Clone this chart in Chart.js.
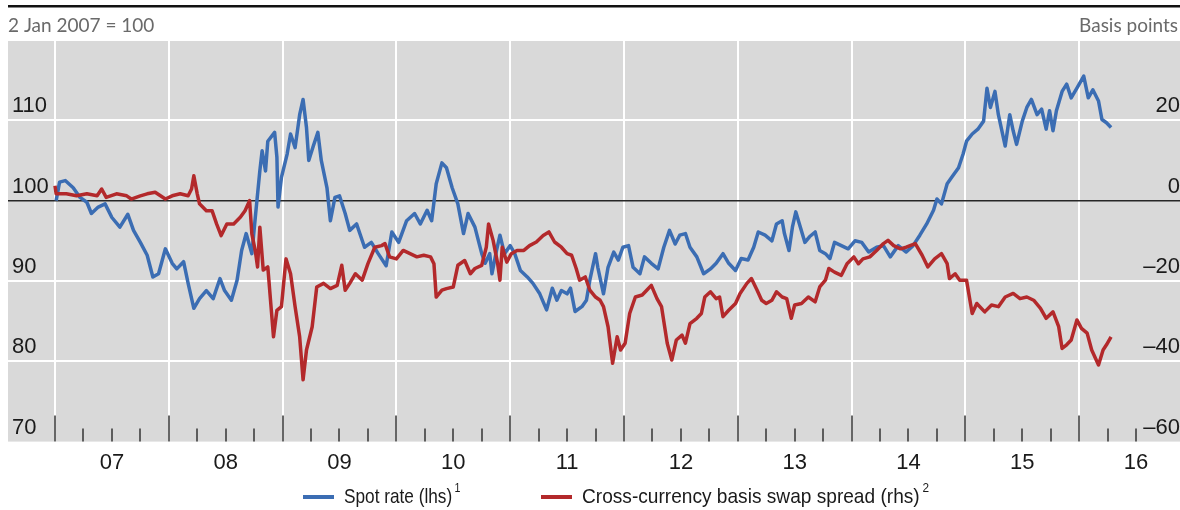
<!DOCTYPE html>
<html>
<head>
<meta charset="utf-8">
<script src="https://cdn.jsdelivr.net/npm/chart.js@4.4.1/dist/chart.umd.min.js"></script>
<style>
  body { margin: 0; background: #fff; }
</style>
</head>
<body>
<canvas id="fxChart" width="1180" height="510"></canvas>
<script>
// Spot rate, 2 Jan 2007 = 100 (lhs)
const spotDates = [
  2007.01, 2007.04, 2007.09, 2007.16, 2007.22, 2007.28, 2007.32, 2007.38, 2007.44, 2007.50, 2007.57, 2007.64, 2007.69, 2007.75, 2007.81, 2007.86, 2007.91, 2007.97,
  2008.03, 2008.07, 2008.13, 2008.17, 2008.22, 2008.27, 2008.33, 2008.39, 2008.45, 2008.49, 2008.55, 2008.60, 2008.64, 2008.68, 2008.73, 2008.76, 2008.80, 2008.82, 2008.85, 2008.87, 2008.93, 2008.95, 2008.96, 2008.99,
  2009.04, 2009.07, 2009.11, 2009.15, 2009.18, 2009.21, 2009.23, 2009.27, 2009.31, 2009.34, 2009.39, 2009.42, 2009.46, 2009.50, 2009.55, 2009.59, 2009.65, 2009.72, 2009.78, 2009.84, 2009.91, 2009.96,
  2010.02, 2010.09, 2010.16, 2010.21, 2010.27, 2010.31, 2010.35, 2010.40, 2010.44, 2010.49, 2010.54, 2010.59, 2010.63, 2010.69, 2010.75, 2010.78, 2010.82, 2010.84, 2010.88, 2010.91, 2010.95,
  2011.00, 2011.04, 2011.09, 2011.15, 2011.20, 2011.26, 2011.32, 2011.37, 2011.41, 2011.45, 2011.50, 2011.53, 2011.57, 2011.63, 2011.67, 2011.70, 2011.75, 2011.77, 2011.82, 2011.86, 2011.91, 2011.95, 2011.99,
  2012.04, 2012.08, 2012.14, 2012.18, 2012.24, 2012.30, 2012.35, 2012.40, 2012.45, 2012.49, 2012.54, 2012.58, 2012.64, 2012.70, 2012.76, 2012.81, 2012.87, 2012.92, 2012.98,
  2013.03, 2013.09, 2013.14, 2013.18, 2013.24, 2013.30, 2013.34, 2013.39, 2013.41, 2013.45, 2013.48, 2013.51, 2013.55, 2013.59, 2013.63, 2013.68, 2013.72, 2013.77, 2013.81, 2013.85, 2013.91, 2013.97,
  2014.03, 2014.09, 2014.15, 2014.22, 2014.28, 2014.34, 2014.41, 2014.48, 2014.54, 2014.60, 2014.66, 2014.72, 2014.75, 2014.79, 2014.84, 2014.88, 2014.94, 2014.98,
  2015.01, 2015.06, 2015.11, 2015.16, 2015.19, 2015.22, 2015.26, 2015.29, 2015.35, 2015.39, 2015.42, 2015.45, 2015.50, 2015.54, 2015.58, 2015.63, 2015.67, 2015.71, 2015.74, 2015.77, 2015.80, 2015.85, 2015.89, 2015.93, 2015.98,
  2016.04, 2016.08, 2016.12, 2016.17, 2016.20, 2016.24, 2016.28
];
const spotValues = [
  100.0, 102.3, 102.5, 101.6, 100.4, 99.8, 98.4, 99.2, 99.6, 97.9, 96.7, 98.3, 96.3, 94.8, 93.2, 90.5, 90.9, 94.0,
  92.2, 91.5, 92.4, 89.7, 86.6, 87.8, 88.8, 87.8, 90.3, 88.8, 87.6, 90.1, 93.8, 95.9, 93.4, 97.9, 103.7, 106.2, 103.7, 107.4, 108.5, 105.4, 99.2, 102.9,
  105.8, 108.3, 106.6, 110.7, 112.6, 109.1, 105.0, 106.8, 108.5, 105.0, 101.6, 97.5, 100.4, 100.6, 98.4, 96.3, 97.1, 94.2, 94.8, 93.4, 91.9, 96.1,
  94.8, 97.5, 98.4, 97.1, 98.8, 97.5, 102.1, 104.7, 104.1, 101.6, 99.6, 95.9, 98.4, 96.7, 93.4, 92.2, 93.4, 90.9, 93.8, 95.7, 93.4,
  94.4, 93.4, 91.3, 90.5, 89.7, 88.4, 86.4, 89.1, 87.6, 88.8, 88.4, 89.1, 86.2, 86.8, 87.6, 90.1, 93.4, 91.7, 88.4, 91.7, 93.6, 92.6, 94.2,
  94.4, 91.7, 90.9, 93.0, 92.2, 91.5, 94.2, 96.3, 94.6, 95.7, 95.9, 94.2, 93.0, 90.9, 91.5, 92.2, 93.4, 92.2, 91.3,
  92.8, 92.6, 94.2, 96.1, 95.7, 95.0, 97.1, 97.5, 95.9, 93.8, 96.7, 98.6, 96.7, 94.8, 95.5, 96.1, 93.8, 93.4, 92.8, 94.8, 94.4, 94.0,
  95.0, 94.8, 93.6, 94.2, 94.4, 93.0, 94.4, 93.6, 94.4, 95.7, 97.1, 98.8, 100.2, 99.6, 102.1, 102.9, 104.1, 105.8,
  107.4, 108.3, 108.9, 109.9, 114.0, 111.6, 113.6, 110.7, 106.8, 110.7, 108.7, 107.0, 109.9, 111.6, 112.6, 110.7, 111.4, 108.9, 111.2, 108.7, 111.2, 113.6, 114.5, 112.8, 114.0,
  115.5, 112.8, 113.8, 112.4, 110.1, 109.7, 109.1
];

// Cross-currency basis swap spread, basis points (rhs)
const basisDates = [
  2007.00, 2007.01, 2007.10, 2007.19, 2007.28, 2007.37, 2007.41, 2007.45, 2007.54, 2007.63, 2007.67, 2007.75, 2007.81, 2007.88, 2007.97,
  2008.03, 2008.10, 2008.17, 2008.20, 2008.22, 2008.25, 2008.27, 2008.33, 2008.38, 2008.42, 2008.46, 2008.51, 2008.57, 2008.63, 2008.67, 2008.71, 2008.73, 2008.76, 2008.78, 2008.80, 2008.83, 2008.87, 2008.92, 2008.95, 2008.99,
  2009.03, 2009.07, 2009.11, 2009.15, 2009.18, 2009.21, 2009.26, 2009.30, 2009.36, 2009.42, 2009.48, 2009.52, 2009.55, 2009.59, 2009.64, 2009.70, 2009.75, 2009.81, 2009.87, 2009.90, 2009.94,
  2010.00, 2010.06, 2010.12, 2010.18, 2010.24, 2010.30, 2010.33, 2010.35, 2010.40, 2010.44, 2010.50, 2010.54, 2010.60, 2010.65, 2010.69, 2010.75, 2010.79, 2010.81, 2010.85, 2010.89, 2010.91, 2010.93, 2010.97,
  2011.01, 2011.06, 2011.12, 2011.17, 2011.23, 2011.29, 2011.34, 2011.39, 2011.45, 2011.50, 2011.54, 2011.58, 2011.61, 2011.66, 2011.70, 2011.75, 2011.79, 2011.82, 2011.86, 2011.90, 2011.94, 2011.97,
  2012.01, 2012.05, 2012.10, 2012.16, 2012.20, 2012.24, 2012.29, 2012.33, 2012.38, 2012.42, 2012.46, 2012.51, 2012.54, 2012.58, 2012.64, 2012.68, 2012.71, 2012.76, 2012.81, 2012.84, 2012.87, 2012.92, 2012.98,
  2013.02, 2013.08, 2013.12, 2013.17, 2013.21, 2013.25, 2013.30, 2013.34, 2013.39, 2013.43, 2013.47, 2013.50, 2013.56, 2013.62, 2013.68, 2013.72, 2013.77, 2013.80, 2013.85, 2013.91, 2013.96,
  2014.02, 2014.06, 2014.10, 2014.16, 2014.22, 2014.28, 2014.32, 2014.37, 2014.43, 2014.48, 2014.56, 2014.62, 2014.67, 2014.73, 2014.79, 2014.84, 2014.86, 2014.91, 2014.95,
  2015.01, 2015.04, 2015.06, 2015.10, 2015.17, 2015.23, 2015.29, 2015.35, 2015.42, 2015.48, 2015.54, 2015.60, 2015.66, 2015.71, 2015.77, 2015.82, 2015.85, 2015.89, 2015.93, 2015.98,
  2016.02, 2016.07, 2016.11, 2016.17, 2016.21, 2016.24, 2016.28
];
const basisValues = [
  3.7, 1.7, 1.7, 1.2, 1.7, 1.2, 2.9, 0.8, 1.7, 1.2, 0.4, 1.2, 1.7, 2.1, 0.4,
  1.2, 1.7, 1.2, 2.9, 6.2, 1.7, -0.8, -2.5, -2.5, -5.8, -8.7, -5.8, -5.8, -4.1, -2.5, 0.0, -8.3, -12.5, -16.5, -6.6, -17.3, -16.5, -33.9, -27.3, -26.4,
  -14.5, -18.2, -26.4, -33.9, -44.6, -37.2, -31.4, -21.5, -20.6, -21.9, -21.1, -16.1, -22.3, -20.6, -18.2, -19.8, -15.7, -11.6, -11.2, -10.7, -14.0,
  -14.5, -12.4, -13.2, -14.0, -13.6, -14.0, -15.7, -24.0, -22.3, -21.9, -21.5, -16.1, -14.9, -18.2, -16.9, -16.1, -11.6, -5.8, -9.9, -15.7, -19.8, -11.6, -15.3,
  -13.2, -12.4, -12.4, -11.2, -10.3, -8.7, -7.8, -10.3, -11.6, -13.2, -13.6, -16.9, -19.8, -19.0, -22.3, -24.0, -24.8, -26.4, -31.4, -40.5, -33.9, -37.2,
  -35.5, -28.1, -24.0, -23.5, -22.3, -21.1, -24.4, -26.4, -35.5, -39.7, -34.7, -33.5, -35.5, -30.6, -29.3, -28.1, -24.0, -22.7, -24.4, -24.0, -28.9, -27.3, -25.6,
  -23.1, -20.6, -19.4, -22.3, -24.8, -25.6, -24.8, -22.7, -24.0, -24.4, -29.3, -26.0, -25.6, -24.0, -25.2, -21.5, -19.8, -16.9, -17.8, -18.6, -15.7,
  -14.0, -15.7, -14.5, -14.0, -12.4, -10.7, -9.9, -11.2, -12.0, -11.6, -10.7, -13.6, -16.5, -14.5, -13.2, -15.7, -19.4, -18.2, -19.8,
  -19.8, -24.8, -28.1, -25.6, -27.7, -26.0, -26.4, -24.0, -23.1, -24.4, -24.0, -24.8, -26.8, -29.3, -27.7, -31.4, -36.8, -35.9, -34.7, -29.7,
  -31.8, -33.0, -37.2, -40.9, -37.2, -35.9, -33.9
];

// axis categories and tick labels
const yearLabels = ['07', '08', '09', '10', '11', '12', '13', '14', '15', '16'];
const lhsTicks = [70, 80, 90, 100, 110];
const rhsTicks = [-60, -40, -20, 0, 20];

const blue = '#3b6db3';
const red = '#b3292b';
const sans = "'Liberation Sans', Arial, sans-serif";
const years = yearLabels.map((l, i) => 2007 + i);

const toPoints = (xs, ys) => xs.map((x, i) => ({ x: x, y: ys[i] }));
const dashNum = v => (v < 0 ? '\u2013' + Math.abs(v) : String(v));

// grey plot panel
const plotBackground = {
  id: 'plotBackground',
  beforeDraw(chart) {
    const { ctx, chartArea: a } = chart;
    ctx.save();
    ctx.fillStyle = '#d9d9d9';
    ctx.fillRect(a.left, a.top, a.right - a.left, a.bottom - a.top);
    ctx.restore();
  }
};

// year / quarter tick marks standing up from the bottom of the panel
const quarterTicks = {
  id: 'quarterTicks',
  afterDraw(chart) {
    const { ctx, chartArea: a } = chart;
    const xs = chart.scales.x;
    const last = years[years.length - 1] + 0.5;
    ctx.save();
    ctx.strokeStyle = '#333';
    ctx.lineWidth = 1.5;
    years.forEach(yr => {
      [0, 0.25, 0.5, 0.75].forEach(q => {
        if (yr + q > last) return;
        const px = Math.round(xs.getPixelForValue(yr + q));
        const len = q === 0 ? 26 : 13;
        ctx.beginPath();
        ctx.moveTo(px, a.bottom);
        ctx.lineTo(px, a.bottom - len);
        ctx.stroke();
      });
    });
    ctx.restore();
  }
};

// top rule, unit captions and legend
const frame = {
  id: 'frame',
  afterDraw(chart) {
    const ctx = chart.ctx;
    ctx.save();
    ctx.fillStyle = '#111';
    ctx.fillRect(8, 5, 1172, 2.5);

    ctx.font = "19px Lato, 'Open Sans', sans-serif";
    ctx.fillStyle = '#6a6a6a';
    ctx.textBaseline = 'middle';
    ctx.textAlign = 'left';
    ctx.fillText('2 Jan 2007 = 100', 8, 26);
    ctx.textAlign = 'right';
    ctx.fillText('Basis points', 1178, 26);

    // legend, text squeezed to a narrow face
    const items = [
      { ds: chart.data.datasets[0], sup: '1', x: 303, squeeze: 0.82 },
      { ds: chart.data.datasets[1], sup: '2', x: 541, squeeze: 0.91 }
    ];
    const ly = 497;
    ctx.textAlign = 'left';
    ctx.textBaseline = 'middle';
    items.forEach(it => {
      ctx.strokeStyle = it.ds.borderColor;
      ctx.lineWidth = 4;
      ctx.beginPath();
      ctx.moveTo(it.x, ly);
      ctx.lineTo(it.x + 31, ly);
      ctx.stroke();
      ctx.fillStyle = '#1a1a1a';
      ctx.save();
      ctx.translate(it.x + 41, ly);
      ctx.scale(it.squeeze, 1);
      ctx.font = '21px ' + sans;
      ctx.fillText(it.ds.label, 0, 0);
      const w = ctx.measureText(it.ds.label).width;
      ctx.font = '13px ' + sans;
      ctx.fillText(it.sup, w + 3, -9);
      ctx.restore();
    });
    ctx.restore();
  }
};

const tickFont = { family: sans, size: 22 };

new Chart(document.getElementById('fxChart'), {
  type: 'line',
  data: {
    datasets: [
      {
        label: 'Spot rate (lhs)',
        data: toPoints(spotDates, spotValues),
        borderColor: blue,
        backgroundColor: blue,
        yAxisID: 'y',
        order: 1
      },
      {
        label: 'Cross-currency basis swap spread (rhs)',
        data: toPoints(basisDates, basisValues),
        borderColor: red,
        backgroundColor: red,
        yAxisID: 'y2',
        order: 0
      }
    ]
  },
  options: {
    responsive: false,
    animation: false,
    layout: { padding: { top: 40, left: 0, right: 0, bottom: 26 } },
    elements: {
      point: { radius: 0 },
      line: { borderWidth: 3.5, tension: 0, borderJoinStyle: 'round' }
    },
    plugins: {
      legend: { display: false },
      tooltip: { enabled: false }
    },
    scales: {
      x: {
        type: 'linear',
        bounds: 'data',
        min: 2006.587,
        max: 2016.886,
        afterBuildTicks: scale => {
          const t = [];
          years.forEach(yr => { t.push({ value: yr }); t.push({ value: yr + 0.5 }); });
          scale.ticks = t;
        },
        border: { display: false },
        grid: {
          drawTicks: false,
          lineWidth: 2,
          color: c => (Number.isInteger(c.tick.value) ? '#ffffff' : 'rgba(0,0,0,0)')
        },
        ticks: {
          autoSkip: false,
          maxRotation: 0,
          padding: 8,
          color: '#1a1a1a',
          font: tickFont,
          callback: v => (Number.isInteger(v) ? '' : yearLabels[Math.floor(v) - years[0]])
        }
      },
      y: {
        position: 'left',
        min: 70,
        max: 120,
        afterBuildTicks: scale => { scale.ticks = lhsTicks.concat([120]).map(v => ({ value: v })); },
        border: { display: false },
        grid: {
          drawTicks: false,
          color: c => (c.tick.value === 100 ? '#262626' : (c.tick.value === 70 ? 'rgba(0,0,0,0)' : '#ffffff')),
          lineWidth: c => (c.tick.value === 100 ? 1.5 : 2)
        },
        ticks: {
          mirror: true,
          padding: 4,
          labelOffset: -14,
          color: '#1a1a1a',
          font: tickFont,
          callback: v => (lhsTicks.includes(v) ? String(v) : '')
        }
      },
      y2: {
        position: 'right',
        min: -60,
        max: 40,
        afterBuildTicks: scale => { scale.ticks = rhsTicks.concat([40]).map(v => ({ value: v })); },
        border: { display: false },
        grid: { display: false, drawTicks: false },
        ticks: {
          mirror: true,
          padding: 0,
          labelOffset: -14,
          color: '#1a1a1a',
          font: tickFont,
          callback: v => (rhsTicks.includes(v) ? dashNum(v) : '')
        }
      }
    }
  },
  plugins: [plotBackground, quarterTicks, frame]
});
</script>
</body>
</html>
